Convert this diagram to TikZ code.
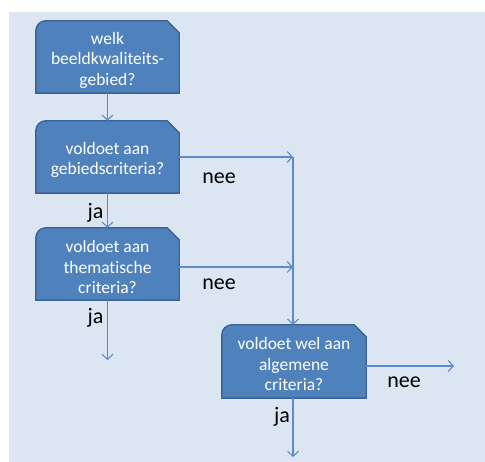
\documentclass[tikz,border=0pt]{standalone}
\usepackage{fontspec}
\setmainfont{Carlito}[Ligatures=NoCommon]
\usetikzlibrary{arrows.meta,calc}
\definecolor{bgblue}{HTML}{DCE6F2}
\definecolor{boxfill}{HTML}{4F81BD}
\definecolor{boxedge}{HTML}{3A6394}
\definecolor{arrowcol}{HTML}{5B8CC8}
\tikzset{
  qbox/.style={minimum width=143pt,minimum height=72pt,inner sep=0pt,align=center,
    text=white,font=\fontsize{17.5}{20.5}\selectfont},
  boxshape/.style={fill=boxfill,draw=boxedge,line width=1.4pt},
  conn/.style={draw=arrowcol,line width=1.1pt,-{Straight Barb[length=5pt,width=11pt,line width=1.1pt]}},
  lbl/.style={inner sep=0pt,font=\fontsize{22}{26}\selectfont,text=black}
}
\newcommand\snipshape[1]{%
  \path[boxshape] (#1.south west) -- ($(#1.north west)+(0,10)$)
    arc[start angle=180,end angle=90,radius=10pt]
    -- ($(#1.north east)+(-12,0)$) -- ($(#1.north east)+(0,12)$)
    -- (#1.south east) -- cycle;}
\begin{document}
\begin{tikzpicture}[x=1pt,y=-1pt]
\useasboundingbox (0,0) rectangle (485,462);
\fill[bgblue] (9,12) rectangle (485,462);
% shapes (node frames)
\path (107.5,57) node[qbox,text opacity=0] (b1frame) {};
\path (107.5,157) node[qbox,text opacity=0] (b2frame) {};
\path (107.5,264) node[qbox,text opacity=0] (b3frame) {};
\path (294,361.5) node[qbox,minimum width=144pt,minimum height=73pt,text opacity=0] (b4frame) {};
\snipshape{b1frame}
\snipshape{b2frame}
\snipshape{b3frame}
\snipshape{b4frame}
% texts
\node[qbox,minimum height=0pt] (b1) at (107.5,60) {welk\\beeldkwaliteits-\\gebied?};
\node[qbox,minimum height=0pt] (b2) at (107.5,160) {voldoet aan\\gebiedscriteria?};
\node[qbox,minimum height=0pt] (b3) at (107.5,267) {voldoet aan\\thematische\\criteria?};
\node[qbox,minimum height=0pt] (b4) at (294,364) {voldoet wel aan\\algemene\\criteria?};
% junction / free ends
\coordinate (j1) at (293,157);
\coordinate (j2) at (293,267);
\coordinate (e3) at (107.5,360);
\coordinate (e4r) at (454,366);
\coordinate (e4b) at (293,457);
% connectors
\draw[conn] (b1frame.south) -- (b2frame.north);
\draw[conn] (b2frame.south) -- (b3frame.north);
\draw[conn] (b2frame.east |- j1) -- (j1);
\draw[conn] (b3frame.east |- j2) -- (j2);
\draw[conn] (j1) -- (j1 |- b4frame.north);
\draw[conn] (b3frame.south) -- (e3);
\draw[conn] (b4frame.east |- e4r) -- (e4r);
\draw[conn] (j1 |- b4frame.south) -- (e4b);
% labels
\node[lbl] (nee1) at (219,178) {nee};
\node[lbl] (nee2) at (219,284) {nee};
\node[lbl] (nee3) at (404,382) {nee};
\node[lbl] (ja1) at (95.5,213) {ja};
\node[lbl] (ja2) at (95.5,318) {ja};
\node[lbl] (ja3) at (282,417) {ja};
\end{tikzpicture}
\end{document}
